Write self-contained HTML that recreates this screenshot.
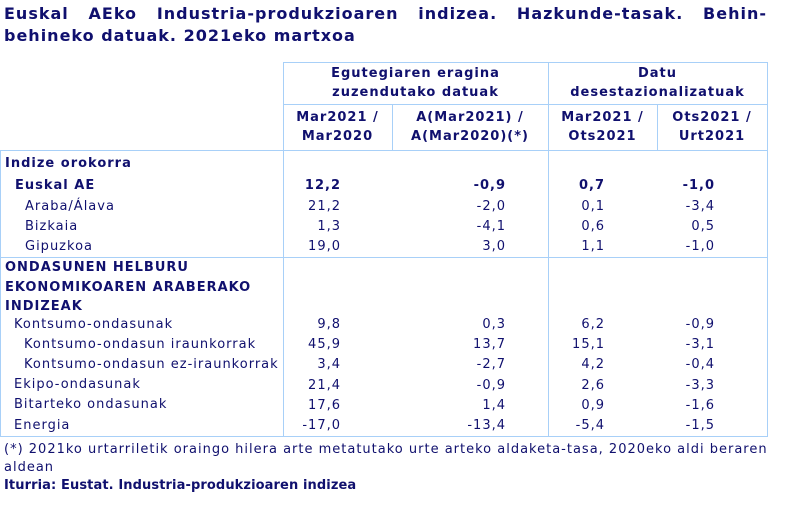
<!DOCTYPE html>
<html><head><meta charset="utf-8"><style>
body{margin:0;width:800px;height:513px;background:#fff;position:relative;overflow:hidden;font-family:"DejaVu Sans","Liberation Sans",sans-serif;color:#10106e;letter-spacing:1px}
div{position:absolute;white-space:nowrap}
.t{font-weight:bold;font-size:16px;left:4px;width:763px;text-align:justify;text-align-last:justify}
.h{font-weight:bold;font-size:13px;text-align:center;line-height:19px}
.l{font-size:13px;line-height:20px}
.b{font-weight:bold}
.n{font-size:13px;text-align:right;line-height:20px}
.hl{height:1px;background:#a8d0f8}
.vl{width:1px;background:#a8d0f8}
</style></head><body>
<div class="t" style="top:4px">Euskal AEko Industria-produkzioaren indizea. Hazkunde-tasak. Behin-</div>
<div class="t" style="top:26px;text-align-last:left;width:auto">behineko datuak. 2021eko martxoa</div>

<div class="hl" style="left:283px;top:62px;width:485px"></div>
<div class="hl" style="left:283px;top:104px;width:485px"></div>
<div class="hl" style="left:0;top:150px;width:768px"></div>
<div class="hl" style="left:0;top:257px;width:768px"></div>
<div class="hl" style="left:0;top:436px;width:768px"></div>
<div class="vl" style="left:0;top:150px;height:287px"></div>
<div class="vl" style="left:283px;top:62px;height:375px"></div>
<div class="vl" style="left:392px;top:104px;height:46px"></div>
<div class="vl" style="left:548px;top:62px;height:375px"></div>
<div class="vl" style="left:657px;top:104px;height:46px"></div>
<div class="vl" style="left:767px;top:62px;height:375px"></div>

<div class="h" style="left:283px;width:265px;top:64px">Egutegiaren eragina<br>zuzendutako datuak</div>
<div class="h" style="left:548px;width:219px;top:64px">Datu<br>desestazionalizatuak</div>
<div class="h" style="left:283px;width:109px;top:108px">Mar2021 /<br>Mar2020</div>
<div class="h" style="left:392px;width:156px;top:108px">A(Mar2021) /<br>A(Mar2020)(*)</div>
<div class="h" style="left:548px;width:109px;top:108px">Mar2021 /<br>Ots2021</div>
<div class="h" style="left:657px;width:110px;top:108px">Ots2021 /<br>Urt2021</div>

<div class="l b" style="left:5px;top:154px">Indize orokorra</div>
<div class="l b" style="left:15px;top:176px">Euskal AE</div>
<div class="l" style="left:25px;top:197px">Araba/Álava</div>
<div class="l" style="left:25px;top:217px">Bizkaia</div>
<div class="l" style="left:25px;top:237px">Gipuzkoa</div>
<div class="l b" style="left:5px;top:258px;line-height:19.5px">ONDASUNEN HELBURU<br>EKONOMIKOAREN ARABERAKO<br>INDIZEAK</div>
<div class="l" style="left:14px;top:315px">Kontsumo-ondasunak</div>
<div class="l" style="left:24px;top:335px">Kontsumo-ondasun iraunkorrak</div>
<div class="l" style="left:24px;top:355px">Kontsumo-ondasun ez-iraunkorrak</div>
<div class="l" style="left:14px;top:375px">Ekipo-ondasunak</div>
<div class="l" style="left:14px;top:395px">Bitarteko ondasunak</div>
<div class="l" style="left:14px;top:416px">Energia</div>

<div class="n" style="left:241px;width:100px;top:176px"><b>12,2</b><br><span style="line-height:21px">21,2</span><br>1,3<br>19,0</div>
<div class="n" style="left:406px;width:100px;top:176px"><b>-0,9</b><br><span style="line-height:21px">-2,0</span><br>-4,1<br>3,0</div>
<div class="n" style="left:505px;width:100px;top:176px"><b>0,7</b><br><span style="line-height:21px">0,1</span><br>0,6<br>1,1</div>
<div class="n" style="left:615px;width:100px;top:176px"><b>-1,0</b><br><span style="line-height:21px">-3,4</span><br>0,5<br>-1,0</div>

<div class="n" style="left:241px;width:100px;top:315px;line-height:20.2px">9,8<br>45,9<br>3,4<br>21,4<br>17,6<br>-17,0</div>
<div class="n" style="left:406px;width:100px;top:315px;line-height:20.2px">0,3<br>13,7<br>-2,7<br>-0,9<br>1,4<br>-13,4</div>
<div class="n" style="left:505px;width:100px;top:315px;line-height:20.2px">6,2<br>15,1<br>4,2<br>2,6<br>0,9<br>-5,4</div>
<div class="n" style="left:615px;width:100px;top:315px;line-height:20.2px">-0,9<br>-3,1<br>-0,4<br>-3,3<br>-1,6<br>-1,5</div>

<div style="left:4px;top:441px;width:760px;font-size:13px;line-height:18px;text-align:justify;text-align-last:justify">(*) 2021ko urtarriletik oraingo hilera arte metatutako urte arteko aldaketa-tasa, 2020eko aldi beraren</div>
<div style="left:4px;top:459px;font-size:13px;line-height:18px">aldean</div>
<div class="b" style="left:4px;top:477px;font-size:13px;line-height:18px;letter-spacing:0.1px">Iturria: Eustat. Industria-produkzioaren indizea</div>
</body></html>
